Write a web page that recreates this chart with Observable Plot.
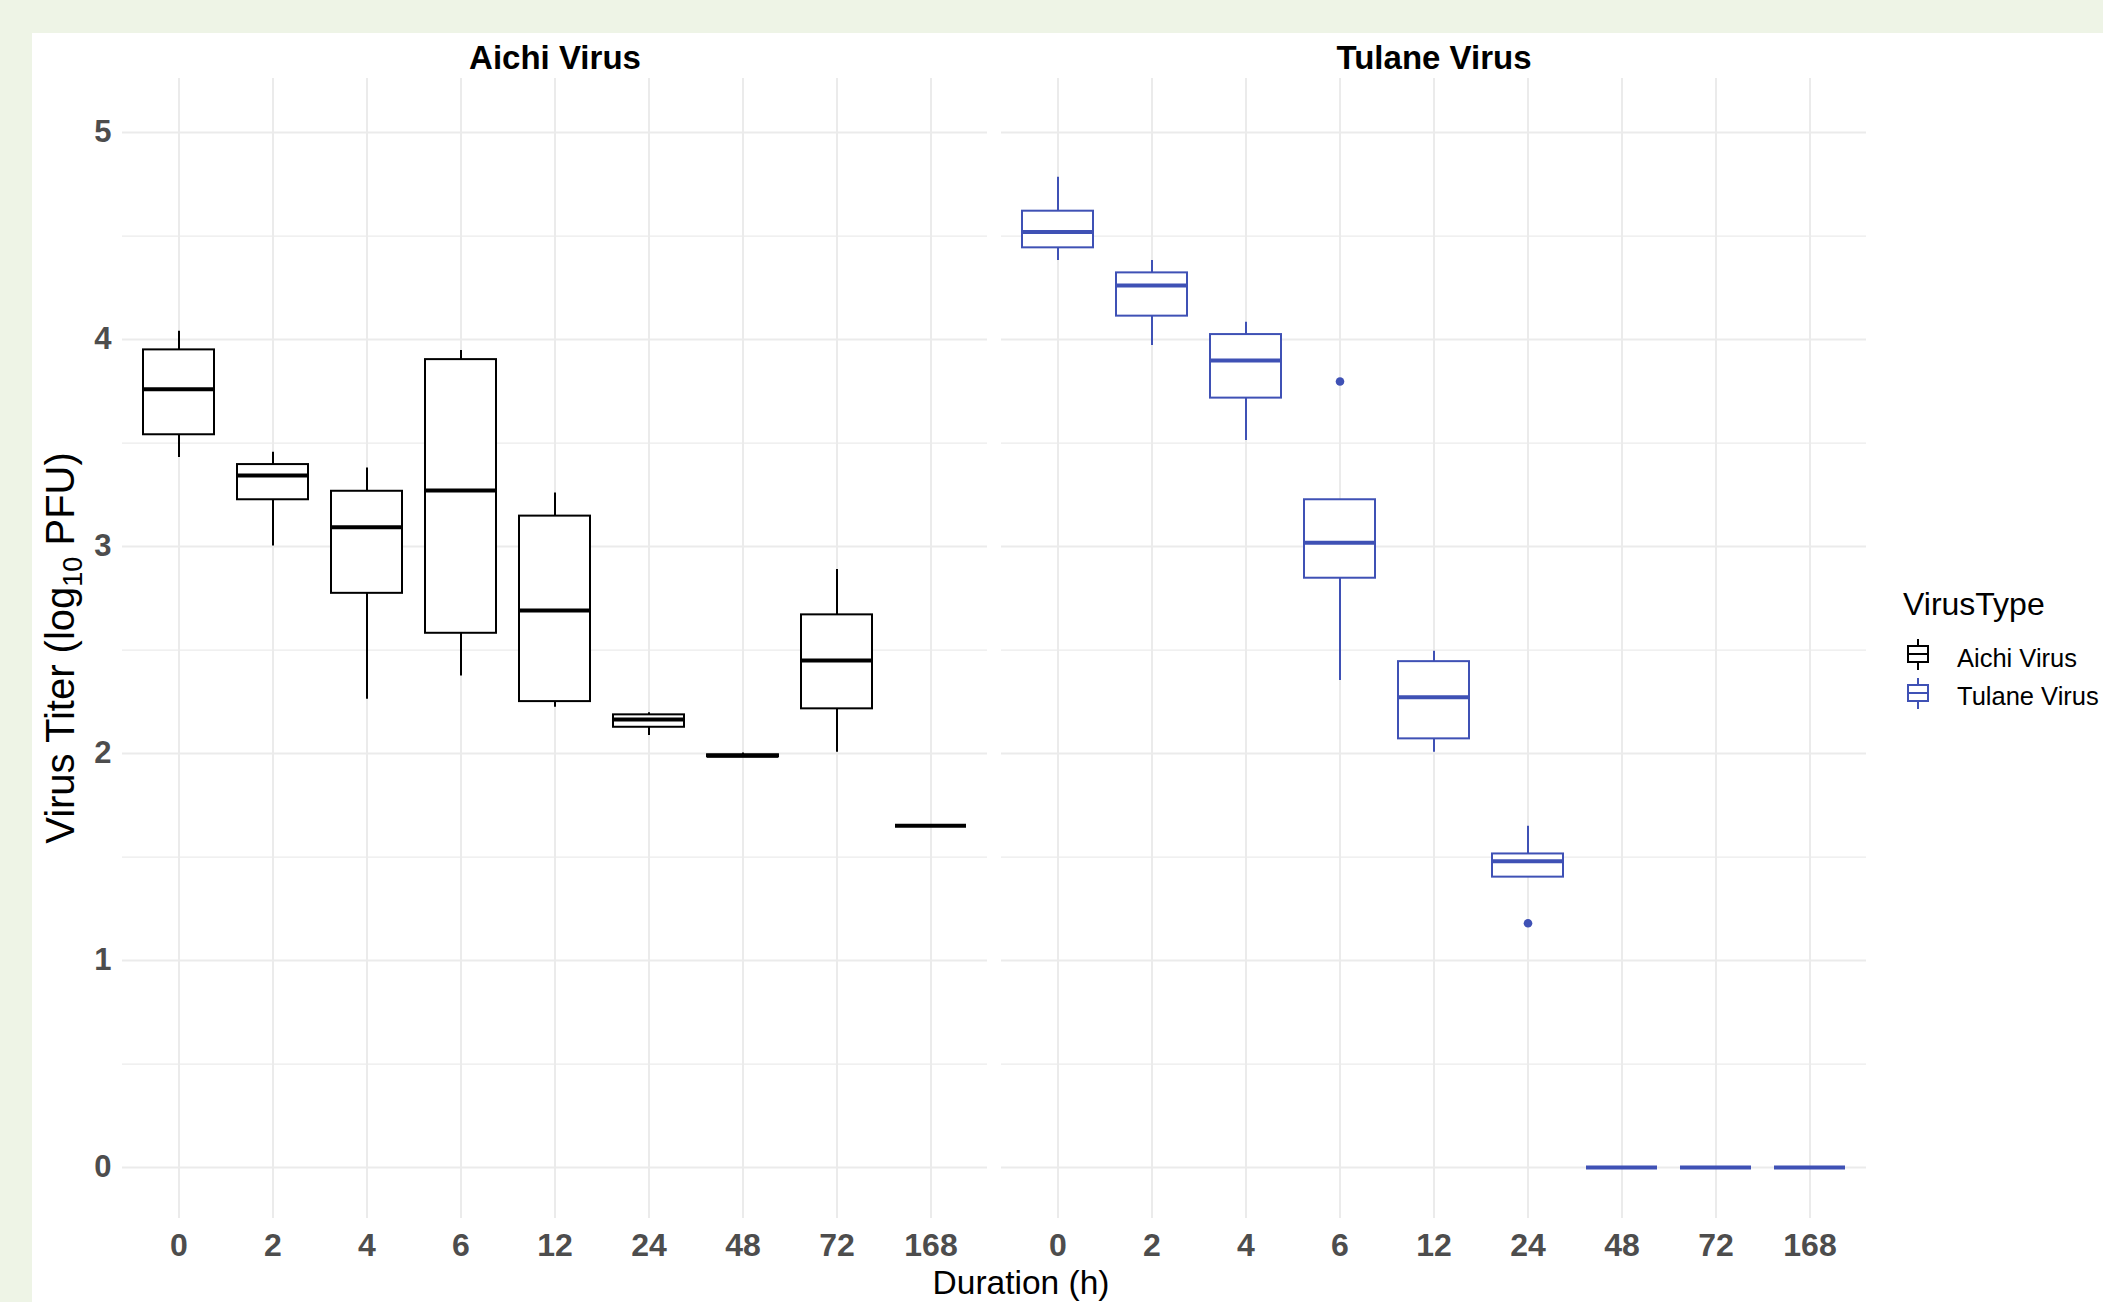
<!DOCTYPE html>
<html>
<head>
<meta charset="utf-8">
<script src="https://cdn.jsdelivr.net/npm/d3@7"></script>
<script src="https://cdn.jsdelivr.net/npm/@observablehq/plot@0.6"></script>
<style>
html, body { margin: 0; padding: 0; }
body { width: 2103px; height: 1302px; background: #EEF4E6; position: relative; overflow: hidden;
       font-family: "Liberation Sans", Arial, sans-serif; }
#sheet { position: absolute; left: 32px; top: 33px; width: 2071px; height: 1269px; background: #ffffff; }
#chart { position: absolute; left: 0; top: 0; }
#overlay { position: absolute; left: 0; top: 0; }
</style>
</head>
<body>
<div id="sheet"></div>
<div id="chart"></div>
<svg id="overlay" width="2103" height="1302" font-family="Liberation Sans, Arial, sans-serif"></svg>
<script>
// ---- data ----
const durations = ["0", "2", "4", "6", "12", "24", "48", "72", "168"];
const virusTypes = ["Aichi Virus", "Tulane Virus"];
const virusColors = ["#000000", "#3F51B5"];

const aichiLow     = [3.43, 3.003, 2.262, 2.375, 2.224, 2.087, 1.984, 2.006, 1.651];
const aichiQ1      = [3.54, 3.226, 2.774, 2.581, 2.251, 2.127, 1.984, 2.216, 1.651];
const aichiMedian  = [3.76, 3.343, 3.093, 3.271, 2.691, 2.164, 1.989, 2.449, 1.651];
const aichiQ3      = [3.95, 3.396, 3.267, 3.903, 3.147, 2.187, 1.994, 2.670, 1.651];
const aichiHigh    = [4.04, 3.456, 3.380, 3.947, 3.259, 2.197, 2.003, 2.889, 1.651];

const tulaneLow    = [4.382, 3.971, 3.512, 2.353, 2.006, 1.403, 0, 0, 0];
const tulaneQ1     = [4.443, 4.113, 3.717, 2.847, 2.071, 1.403, 0, 0, 0];
const tulaneMedian = [4.520, 4.261, 3.899, 3.018, 2.272, 1.480, 0, 0, 0];
const tulaneQ3     = [4.620, 4.322, 4.024, 3.226, 2.444, 1.515, 0, 0, 0];
const tulaneHigh   = [4.784, 4.382, 4.084, 3.226, 2.494, 1.649, 0, 0, 0];

const outlierType     = ["Tulane Virus", "Tulane Virus"];
const outlierDuration = ["6", "24"];
const outlierValue    = [3.797, 1.18];

const yTicks = [0, 1, 2, 3, 4, 5];
const yMinorTicks = [0.5, 1.5, 2.5, 3.5, 4.5];

// ---- tables ----
const rows = [];
durations.forEach((d, i) => {
  rows.push({type: virusTypes[0], duration: d, lo: aichiLow[i], q1: aichiQ1[i], med: aichiMedian[i], q3: aichiQ3[i], hi: aichiHigh[i]});
  rows.push({type: virusTypes[1], duration: d, lo: tulaneLow[i], q1: tulaneQ1[i], med: tulaneMedian[i], q3: tulaneQ3[i], hi: tulaneHigh[i]});
});
const outliers = outlierValue.map((v, i) => ({type: outlierType[i], duration: outlierDuration[i], value: v}));

const font = "Liberation Sans, Arial, sans-serif";
const grid = "#EBEBEB";

const chart = Plot.plot({
  width: 1900,
  height: 1302,
  marginLeft: 121,
  marginRight: 34,
  marginTop: 78,
  marginBottom: 84,
  style: {background: "transparent", fontFamily: font, maxWidth: "none", overflow: "visible"},
  fx: {domain: virusTypes, paddingInner: 0.016, paddingOuter: 0, axis: null, label: null},
  x: {domain: durations, paddingInner: 0.25, paddingOuter: 0.225, label: null},
  y: {domain: [-0.246, 5.261], label: null},
  color: {domain: virusTypes, range: virusColors},
  marks: [
    Plot.gridY(yMinorTicks, {stroke: grid, strokeOpacity: 1, strokeWidth: 1.3}),
    Plot.gridY(yTicks, {stroke: grid, strokeOpacity: 1, strokeWidth: 2}),
    Plot.gridX(durations, {stroke: grid, strokeOpacity: 1, strokeWidth: 2}),
    Plot.axisY(yTicks, {tickSize: 0, tickPadding: 11, tickFormat: d => String(d), fontSize: 31, fontWeight: "bold", fill: "#4D4D4D", label: null}),
    Plot.axisX(durations, {tickSize: 0, tickPadding: 15, fontSize: 32, fontWeight: "bold", fill: "#4D4D4D", label: null}),
    Plot.ruleX(rows, {fx: "type", x: "duration", y1: "lo", y2: "hi", stroke: "type", strokeWidth: 2}),
    Plot.barY(rows, {fx: "type", x: "duration", y1: "q1", y2: "q3", fill: "white", stroke: "type", strokeWidth: 2}),
    Plot.tickY(rows, {fx: "type", x: "duration", y: "med", stroke: "type", strokeWidth: 4}),
    Plot.dot(outliers, {fx: "type", x: "duration", y: "value", r: 4.3, fill: "type", stroke: null}),
    Plot.text(virusTypes, {fx: d => d, text: d => d, frameAnchor: "top", dy: -33, fontSize: 33, fontWeight: "bold", fill: "#000"})
  ]
});
document.getElementById("chart").appendChild(chart);

// ---- titles and legend ----
const ov = d3.select("#overlay");
ov.append("text")
  .attr("transform", "translate(74,648) rotate(-90)")
  .attr("text-anchor", "middle")
  .attr("font-size", 40)
  .attr("fill", "#000")
  .call(t => {
    t.append("tspan").text("Virus Titer (log");
    t.append("tspan").attr("font-size", 27).attr("dy", 8).text("10");
    t.append("tspan").attr("dy", -8).text(" PFU)");
  });
ov.append("text").attr("x", 1021).attr("y", 1294).attr("text-anchor", "middle")
  .attr("font-size", 33.5).attr("fill", "#000").text("Duration (h)");

ov.append("text").attr("x", 1903).attr("y", 615).attr("font-size", 32).attr("fill", "#000").text("VirusType");
const legendRows = [{top: 639, textX: 1957, textY: 667}, {top: 678, textX: 1957, textY: 705}];
virusTypes.forEach((name, i) => {
  const L = legendRows[i];
  const c = virusColors[i];
  const g = ov.append("g").attr("stroke", c).attr("stroke-width", 2).attr("fill", "none");
  g.append("line").attr("x1", 1918).attr("x2", 1918).attr("y1", L.top).attr("y2", L.top + 31);
  g.append("rect").attr("x", 1908).attr("y", L.top + 7).attr("width", 20).attr("height", 16).attr("fill", "#fff");
  g.append("line").attr("x1", 1908).attr("x2", 1928).attr("y1", L.top + 15).attr("y2", L.top + 15);
  ov.append("text").attr("x", L.textX).attr("y", L.textY).attr("font-size", 25.5).attr("fill", "#000").text(name);
});
</script>
</body>
</html>
